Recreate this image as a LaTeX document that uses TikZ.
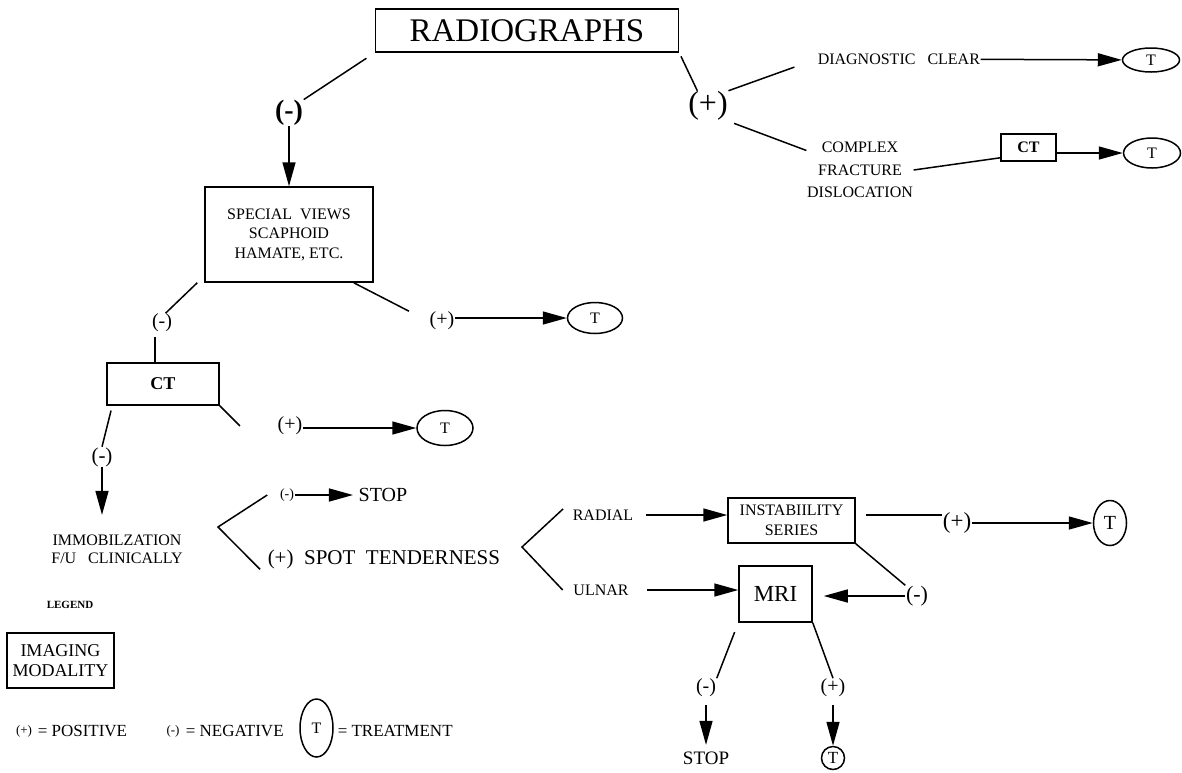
\documentclass[tikz,border=0pt]{standalone}
\usepackage{fontspec}
\setmainfont{Liberation Serif}
\usetikzlibrary{arrows.meta,shapes.geometric}
\newcommand{\fsz}[2]{\fontsize{#1}{#2}\selectfont}

\begin{document}
\begin{tikzpicture}[x=1pt, y=-1pt, line width=1.5pt,
	lbl/.style = {inner sep=0pt, align=center, font=\fsz{16}{19.5}},
	box/.style = {draw, inner sep=0pt, align=center, font=\fsz{16}{19.5}},
	tnode/.style = {draw, ellipse, inner sep=0pt, font=\fsz{16}{16}},
	sign/.style = {inner sep=0pt, font=\fsz{20}{20}},
	arr/.style = {-{Triangle[length=24pt,width=13pt]}},]
		\useasboundingbox (0,0) rectangle (1182,772);

		\node[box, minimum width=303pt, minimum height=43pt, font=\fsz{33}{33}] (radio) at (527,30.5) {RADIOGRAPHS};
		\node[sign, font=\bfseries\fsz{28}{28}] (neg1) at (289,113) {(-)};
		\node[box, minimum width=168pt, minimum height=95pt] (views) at (289,234.5) {SPECIAL\ \ VIEWS\\SCAPHOID\\HAMATE,\ ETC.};
		\node[sign, font=\fsz{32}{32}] (pos1) at (708,106) {(+)};
		\node[lbl, anchor=west] (diag) at (817,59) {DIAGNOSTIC\ \ \ CLEAR};
		\node[lbl, font=\fsz{16}{22.5}] (complex) at (860,170) {COMPLEX\\FRACTURE\\DISLOCATION};
		\node[box, minimum width=55pt, minimum height=27pt, font=\bfseries\fsz{16}{16}] (ctA) at (1028.5,147.5) {CT};
		\node[tnode, minimum width=57pt, minimum height=24pt] (tA) at (1151,60) {T};
		\node[tnode, minimum width=57pt, minimum height=30pt] (tB) at (1152,153) {T};

		\node[sign] (neg2) at (162,323) {(-)};
		\node[sign] (pos2) at (442,321) {(+)};
		\node[tnode, minimum width=55pt, minimum height=31pt] (tC) at (595,318) {T};
		\node[box, minimum width=112pt, minimum height=42pt, font=\bfseries\fsz{18}{18}] (ct) at (163,384) {CT};
		\node[sign] (pos3) at (290,426) {(+)};
		\node[tnode, minimum width=56pt, minimum height=35pt] (tD) at (445,428) {T};
		\node[sign, font=\fsz{21}{21}] (neg3) at (102,457) {(-)};
		\node[lbl, font=\fsz{16}{18}] (immob) at (117,549) {IMMOBILZATION\\F/U\ \ \ CLINICALLY};

		\coordinate (br1) at (218,527);
		\node[sign, font=\fsz{14}{14}] (neg4) at (287,495) {(-)};
		\node[lbl, font=\fsz{20}{20}] (stop1) at (383,495) {STOP};
		\node[lbl, font=\fsz{21}{21}, anchor=west] (spot) at (267,559) {(+)\ \ SPOT\ \ TENDERNESS};

		\coordinate (br2) at (522,547);
		\node[lbl] (radial) at (603,515) {RADIAL};
		\node[lbl] (ulnar) at (601,590) {ULNAR};
		\node[box, minimum width=127pt, minimum height=45pt, font=\fsz{16}{20}] (inst) at (791.5,520.5) {INSTABIILITY\\SERIES};
		\node[sign, font=\fsz{23}{23}] (pos5) at (957,523) {(+)};
		\node[tnode, minimum width=33pt, minimum height=45pt, font=\fsz{20}{20}] (tE) at (1110,523) {T};
		\node[sign, font=\fsz{22}{22}] (neg5) at (917,596) {(-)};
		\node[box, minimum width=73pt, minimum height=56pt, font=\fsz{23}{23}] (mri) at (775.5,594) {MRI};
		\node[sign] (neg6) at (706,688) {(-)};
		\node[lbl, font=\fsz{19}{19}] (stop2) at (706,758) {STOP};
		\node[sign] (pos6) at (833,688) {(+)};
		\node[tnode, circle, minimum size=23pt, font=\fsz{17}{17}] (tF) at (833,758) {T};

		\node[lbl, font=\bfseries\fsz{11}{11}] (legend) at (70,605) {LEGEND};
		\node[box, minimum width=107pt, minimum height=55pt, font=\fsz{18}{20}] (modality) at (60.5,660.5) {IMAGING\\MODALITY};
		\node[sign, font=\fsz{13}{13}] (keyPos) at (24,731) {(+)};
		\node[lbl, font=\fsz{17}{17}, anchor=west] (keyPosTxt) at (37,731) {=\ POSITIVE};
		\node[sign, font=\fsz{13}{13}] (keyNeg) at (173,731) {(-)};
		\node[lbl, font=\fsz{17}{17}, anchor=west] (keyNegTxt) at (185,731) {=\ NEGATIVE};
		\node[tnode, minimum width=33pt, minimum height=58pt] (keyT) at (316.5,728) {T};
		\node[lbl, font=\fsz{17}{17}, anchor=west] (keyTTxt) at (337,731) {=\ TREATMENT};

		\draw[shorten <=10pt] (radio.south west) -- (neg1.north east);
		\draw[arr] (neg1) -- (views);
		\draw[shorten <=4pt] (radio.south east) -- (pos1.125);
		\draw[shorten >=24pt] (pos1.north east) -- (diag.west);
		\draw[arr] (diag) -- (tA);
		\draw[shorten <=6pt] (pos1.south east) -- (complex.160);
		\draw (complex.east) -- (ctA.200);
		\draw[arr] (ctA.east|-tB) -- (tB);

		\draw ([xshift=-7pt]views.south west) -- (neg2.70);
		\draw ([xshift=-20pt]views.south east) -- ([xshift=-20pt]pos2.north west);
		\draw[arr] (pos2.east|-tC) -- (tC);
		\draw[shorten <=4pt] ([xshift=-7pt]neg2.south) -- ([xshift=-7pt]neg2.south|-ct.north);
		\draw (ct.south east) -- ([xshift=-37pt]pos3.west);
		\draw[arr] (pos3.east|-tD) -- (tD);
		\draw[shorten <=5pt] ([xshift=6pt]ct.south west) -- (neg3.north);
		\draw[arr] (neg3) -- ([yshift=19pt]neg3|-immob.north);

		\draw ([xshift=-12pt]neg4.west) -- (br1) -- ([xshift=-7pt]spot.south west);
		\draw[arr, shorten >=5pt] (neg4) -- (stop1);
		\draw ([xshift=-9pt]radial.north west) -- (br2) -- ([xshift=-10pt]ulnar.west);
		\draw[arr, shorten <=12pt] (radial) -- (radial-|inst.west);
		\draw[shorten <=10pt] (radial-|inst.east) -- (radial-|pos5.west);
		\draw[arr] (pos5) -- (tE);
		\draw (inst.south east) -- (neg5.north west);
		\draw[arr, shorten >=11pt] (neg5.west) -- (neg5.west-|mri.east);
		\draw[arr, shorten <=18pt] (ulnar) -- (ulnar-|mri.west);
		\draw[shorten <=10pt] (mri.south west) -- (neg6.north east);
		\draw[arr, shorten <=7pt, shorten >=6pt] (neg6) -- (stop2);
		\draw (mri.south east) -- (pos6.north);
		\draw[arr, shorten <=7pt] (pos6) -- (tF);
	\end{tikzpicture}
\end{document}
